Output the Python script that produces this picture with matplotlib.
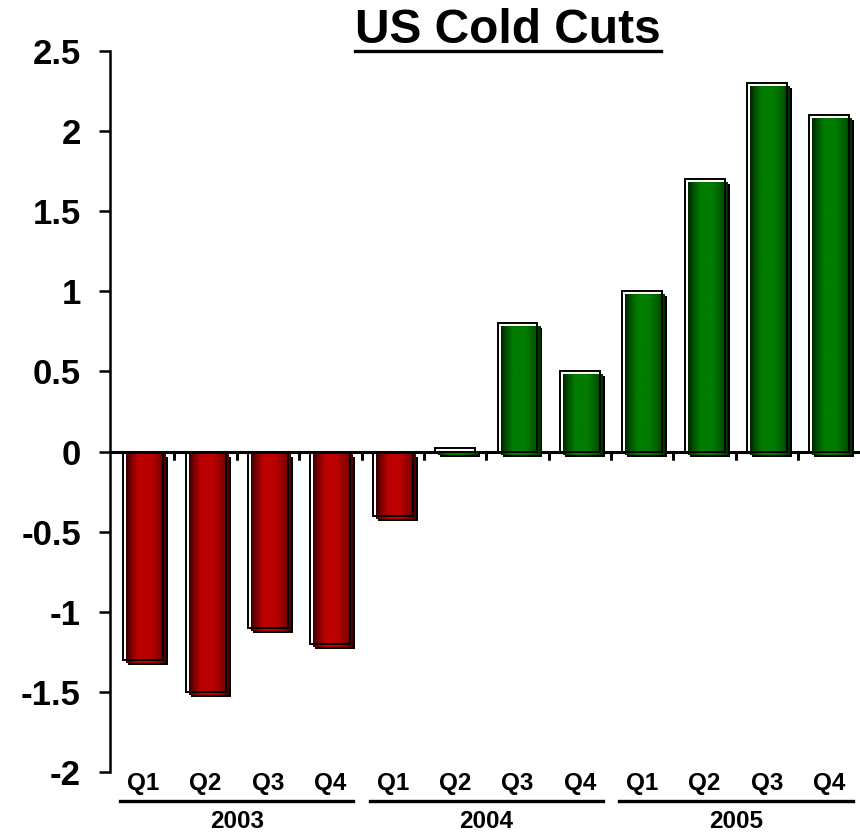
import numpy as np
import matplotlib
matplotlib.use("Agg")
import matplotlib.pyplot as plt
from matplotlib.colors import LinearSegmentedColormap
from matplotlib.transforms import offset_copy, blended_transform_factory
from matplotlib.lines import Line2D

# data
quarters = ["Q1", "Q2", "Q3", "Q4"] * 3
years = ["2003", "2004", "2005"]
values = [-1.3, -1.5, -1.1, -1.2, -0.4, 0.02, 0.8, 0.5, 1.0, 1.7, 2.3, 2.1]

plt.rcParams['font.family'] = ['Liberation Sans', 'DejaVu Sans']
plt.rcParams['font.weight'] = 'bold'

fig = plt.figure(figsize=(8.6, 8.35), dpi=100)
ax = fig.add_axes([0.128, 0.0754, 0.872, 0.8635])

red_cmap = LinearSegmentedColormap.from_list(
    "red3d", [(0, '#3a0000'), (0.12, '#7a0000'), (0.3, '#bb0000'),
              (0.6, '#bb0000'), (0.85, '#8a0000'), (1, '#4a0000')])
green_cmap = LinearSegmentedColormap.from_list(
    "green3d", [(0, '#002800'), (0.12, '#004f00'), (0.3, '#007c00'),
                (0.6, '#007c00'), (0.85, '#005a00'), (1, '#002e00')])

width = 0.64
x = np.arange(len(values))
shadow_tr = offset_copy(ax.transData, fig=fig, x=5, y=-5, units='dots')
fill_tr = offset_copy(ax.transData, fig=fig, x=3, y=-3, units='dots')

# zero line sits under the bars
ax.axhline(0, color='black', linewidth=2.2, zorder=0.5)

# shadow
ax.bar(x, values, width, color='black', transform=shadow_tr, zorder=1)

# gradient fill
grad = np.linspace(0, 1, 64)[np.newaxis, :]
for xi, v in zip(x, values):
    cmap = green_cmap if v > 0 else red_cmap
    im = ax.imshow(grad, cmap=cmap, aspect='auto', interpolation='bilinear',
                   extent=(xi - width / 2, xi + width / 2, min(0, v), max(0, v)),
                   zorder=2)
    im.set_transform(fill_tr)

# frame
ax.bar(x, values, width, facecolor='none', edgecolor='black', linewidth=1.4, zorder=3)

ax.set_xlim(-0.53, 11.49)
ax.set_ylim(-2, 2.5)
ax.set_yticks([-2, -1.5, -1, -0.5, 0, 0.5, 1, 1.5, 2, 2.5])
ax.set_yticklabels(["-2", "-1.5", "-1", "-0.5", "0", "0.5", "1", "1.5", "2", "2.5"])
ax.tick_params(axis='y', length=8, width=1.8, labelsize=25, pad=13)
ax.set_xticks([])

for s in ['top', 'right', 'bottom']:
    ax.spines[s].set_visible(False)
ax.spines['left'].set_linewidth(1.8)

# small tick marks under the zero line
for b in x[:-1] + 0.5:
    ax.plot([b, b], [0, 0], marker=3, markersize=6, markeredgewidth=2,
            color='black', zorder=0.5, clip_on=False)

# category labels
tr = blended_transform_factory(ax.transData, ax.transAxes)
for xi, q in zip(x, quarters):
    ax.text(xi, -0.016, q, transform=tr, ha='center', va='center',
            fontsize=17.5, fontweight='bold')
for gi, yr in enumerate(years):
    c = gi * 4 + 1.5
    ax.add_line(Line2D([c - 1.87, c + 1.87], [-0.04, -0.04], transform=tr,
                       color='black', linewidth=2.4, clip_on=False))
    ax.text(c, -0.0685, yr, transform=tr, ha='center', va='center',
            fontsize=17.5, fontweight='bold')

# title with underline
t = fig.text(508 / 860, (835 - 43) / 835, "US Cold Cuts", ha='center', va='baseline',
             fontsize=34.5, fontweight='bold')
fig.canvas.draw()
bb = t.get_window_extent().transformed(fig.transFigure.inverted())
fig.add_artist(Line2D([bb.x0, bb.x1], [(835 - 51) / 835] * 2, transform=fig.transFigure,
                      color='black', linewidth=2.4))

fig.savefig("out.png", dpi=100)
